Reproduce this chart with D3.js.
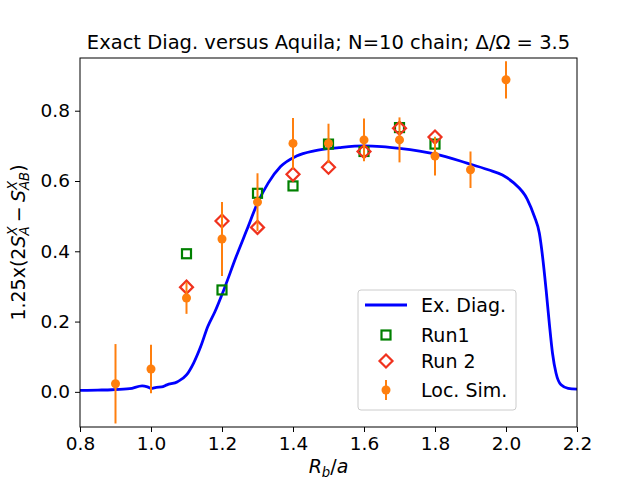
<!DOCTYPE html>
<html>
<head>
<meta charset="UTF-8">
<script src="https://cdn.jsdelivr.net/npm/d3@7/dist/d3.min.js"></script>
<style>
body{
    margin:0;
    background-color:white;
    font-family:"DejaVu Sans", sans-serif;
}
.axis path, .axis line{
    stroke:black;
}
</style>
</head>
<body>
<script>

// Exact Diag. curve
var edX = [0.80,0.85,0.89,0.94,0.975,0.99,1.00,1.015,1.03,1.045,1.075,1.10,1.12,1.14,1.16,1.18,1.205,1.24,1.27,1.30,1.33,1.365,1.41,1.46,1.53,1.60,1.65,1.70,1.80,1.89,1.95,1.99,2.02,2.06,2.08,2.094,2.103,2.113,2.122,2.131,2.141,2.155,2.175,2.20];
var edY = [0.004,0.005,0.006,0.009,0.017,0.014,0.010,0.013,0.014,0.020,0.029,0.048,0.082,0.129,0.186,0.228,0.290,0.385,0.461,0.537,0.594,0.641,0.671,0.686,0.695,0.700,0.698,0.693,0.677,0.651,0.632,0.617,0.596,0.548,0.499,0.451,0.385,0.290,0.195,0.110,0.053,0.020,0.010,0.008];

var runX = [1.1,1.2,1.3,1.4,1.5,1.6,1.7,1.8];
var run1 = [0.393,0.290,0.565,0.586,0.705,0.684,0.752,0.705];
var run2 = [0.298,0.486,0.468,0.619,0.639,0.684,0.750,0.725];

var simX = [0.9,1.0,1.1,1.2,1.3,1.4,1.5,1.6,1.7,1.8,1.9,2.0];
var simY = [0.023,0.065,0.267,0.435,0.540,0.707,0.707,0.717,0.717,0.671,0.632,0.888];
var simErr = [0.113,0.069,0.045,0.105,0.082,0.072,0.056,0.061,0.064,0.055,0.052,0.053];

var xTicks = [0.8,1.0,1.2,1.4,1.6,1.8,2.0,2.2];
var yTicks = [0.0,0.2,0.4,0.6,0.8];

var width = 640, height = 480;
var margin = {top: 58, right: 63, bottom: 53, left: 80};
var fs = 19;

var x = d3.scaleLinear().domain([0.8,2.2]).range([margin.left, width-margin.right]);
var y = d3.scaleLinear().domain([-0.1,0.95]).range([height-margin.bottom, margin.top]);

var svg = d3.select("body").append("svg")
    .attr("width",width)
    .attr("height",height)
    .style("display","block");

svg.append("clipPath").attr("id","plot")
    .append("rect")
    .attr("x",margin.left).attr("y",margin.top)
    .attr("width",width-margin.left-margin.right)
    .attr("height",height-margin.top-margin.bottom);

// exact diag line
var line = d3.line()
    .x(function(d){ return x(d[0]); })
    .y(function(d){ return y(d[1]); })
    .curve(d3.curveMonotoneX);

svg.append("path")
    .datum(d3.zip(edX, edY))
    .attr("clip-path","url(#plot)")
    .attr("d", line)
    .attr("fill","none")
    .attr("stroke","blue")
    .attr("stroke-width",2.8);

// Run1 squares
svg.selectAll(".run1")
    .data(d3.zip(runX, run1))
    .enter().append("rect")
    .attr("class","run1")
    .attr("x",function(d){ return x(d[0]) - 4.5; })
    .attr("y",function(d){ return y(d[1]) - 4.5; })
    .attr("width",9).attr("height",9)
    .attr("fill","none")
    .attr("stroke","green")
    .attr("stroke-width",2.2);

// Run 2 diamonds
var diamond = "M0,-6.5L6.5,0L0,6.5L-6.5,0Z";
svg.selectAll(".run2")
    .data(d3.zip(runX, run2))
    .enter().append("path")
    .attr("class","run2")
    .attr("transform",function(d){ return "translate("+x(d[0])+","+y(d[1])+")"; })
    .attr("d",diamond)
    .attr("fill","none")
    .attr("stroke","#f0321e")
    .attr("stroke-width",2.2);

// Loc. Sim. with error bars
var sim = svg.selectAll(".sim")
    .data(d3.zip(simX, simY, simErr))
    .enter().append("g")
    .attr("class","sim")
    .attr("clip-path","url(#plot)");
sim.append("line")
    .attr("x1",function(d){ return x(d[0]); })
    .attr("x2",function(d){ return x(d[0]); })
    .attr("y1",function(d){ return y(d[1]-d[2]); })
    .attr("y2",function(d){ return y(d[1]+d[2]); })
    .attr("stroke","#ff7f0e")
    .attr("stroke-width",2);
sim.append("circle")
    .attr("cx",function(d){ return x(d[0]); })
    .attr("cy",function(d){ return y(d[1]); })
    .attr("r",4.5)
    .attr("fill","#ff7f0e");

// axes
svg.append("g")
    .attr("class","axis")
    .attr("transform","translate(0,"+(height-margin.bottom)+")")
    .call(d3.axisBottom(x).tickValues(xTicks).tickFormat(d3.format(".1f")).tickSizeOuter(0).tickSize(5).tickPadding(5));
svg.append("g")
    .attr("class","axis")
    .attr("transform","translate("+margin.left+",0)")
    .call(d3.axisLeft(y).tickValues(yTicks).tickFormat(d3.format(".1f")).tickSizeOuter(0).tickSize(5).tickPadding(5));
svg.selectAll(".axis text")
    .attr("font-family","DejaVu Sans")
    .attr("font-size",18.5)
    .attr("fill","black");
svg.selectAll(".axis .domain").remove();

svg.append("rect")
    .attr("x",margin.left).attr("y",margin.top)
    .attr("width",width-margin.left-margin.right)
    .attr("height",height-margin.top-margin.bottom)
    .attr("fill","none")
    .attr("stroke","black")
    .attr("stroke-width",1);

// title
svg.append("text")
    .attr("x",(margin.left + width - margin.right)/2)
    .attr("y",49)
    .attr("text-anchor","middle")
    .attr("font-size",19.5)
    .text("Exact Diag. versus Aquila; N=10 chain; Δ/Ω = 3.5");

// little math text helper: pieces laid out left to right,
// a piece may carry sup and sub stacked over one another
function mathText(g, pieces, size){
    var cx = 0;
    pieces.forEach(function(p){
        if(p.gap){ cx += p.gap*size; return; }
        var t = g.append("text").attr("x",cx).attr("y",0)
            .attr("font-size",size)
            .attr("font-style",p.it ? "italic" : "normal")
            .text(p.t);
        cx += t.node().getComputedTextLength();
        var w = 0;
        if(p.sup){
            var s = g.append("text").attr("x",cx).attr("y",-0.42*size)
                .attr("font-size",size*0.7).attr("font-style","italic").text(p.sup);
            w = Math.max(w, s.node().getComputedTextLength());
        }
        if(p.sub){
            var b = g.append("text").attr("x",cx).attr("y",0.2*size)
                .attr("font-size",size*0.7).attr("font-style","italic").text(p.sub);
            w = Math.max(w, b.node().getComputedTextLength());
        }
        cx += w;
    });
    return cx;
}

// x label
var xl = svg.append("g");
var xw = mathText(xl, [{t:"R", it:true, sub:"b"},{t:"/"},{t:"a", it:true}], fs);
xl.attr("transform","translate("+((margin.left+width-margin.right)/2 - xw/2)+",473)");

// y label
var yl = svg.append("g");
var yw = mathText(yl, [{t:"1.25x(2"},{t:"S", it:true, sup:"X", sub:"A"},{gap:0.22},{t:"−"},{gap:0.22},{t:"S", it:true, sup:"X", sub:"AB"},{t:")"}], fs);
yl.attr("transform","translate(25,"+((margin.top+height-margin.bottom)/2 + yw/2)+") rotate(-90)");

// legend
var lg = svg.append("g").attr("transform","translate(358,290)");
lg.append("rect")
    .attr("width",158).attr("height",120).attr("rx",3)
    .attr("fill","white").attr("fill-opacity",0.8)
    .attr("stroke","#cccccc");
var labels = ["Ex. Diag.","Run1","Run 2","Loc. Sim."];
var rowY = [15,45,71,100];
lg.selectAll(".lab")
    .data(labels)
    .enter().append("text")
    .attr("x",63)
    .attr("y",function(d,i){ return rowY[i]; })
    .attr("dy","0.35em")
    .attr("font-size",fs)
    .text(function(d){ return d; });
lg.append("line").attr("x1",7).attr("x2",49).attr("y1",rowY[0]).attr("y2",rowY[0])
    .attr("stroke","blue").attr("stroke-width",2.8);
lg.append("rect").attr("x",28-4.5).attr("y",rowY[1]-4.5).attr("width",9).attr("height",9)
    .attr("fill","none").attr("stroke","green").attr("stroke-width",2.2);
lg.append("path").attr("transform","translate(28,"+rowY[2]+")").attr("d",diamond)
    .attr("fill","none").attr("stroke","#f0321e").attr("stroke-width",2.2);
lg.append("line").attr("x1",28).attr("x2",28).attr("y1",rowY[3]-10).attr("y2",rowY[3]+10)
    .attr("stroke","#ff7f0e").attr("stroke-width",2);
lg.append("circle").attr("cx",28).attr("cy",rowY[3]).attr("r",4.5).attr("fill","#ff7f0e");

</script>
</body>
</html>
